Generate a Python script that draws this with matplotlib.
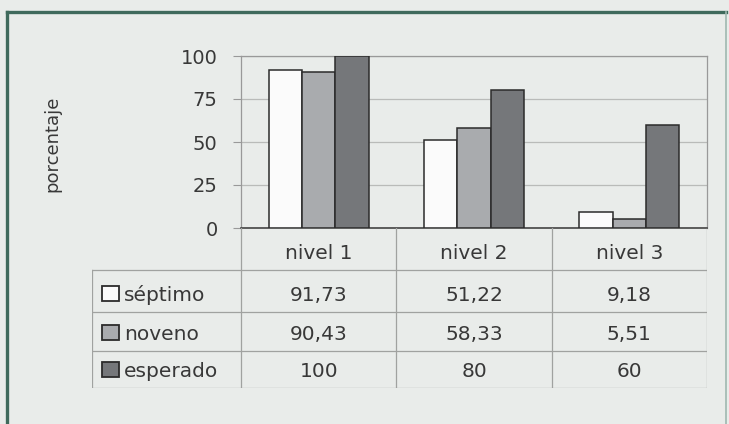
import matplotlib.pyplot as plt
from matplotlib.patches import Rectangle
from matplotlib.lines import Line2D

niveles = ['nivel 1', 'nivel 2', 'nivel 3']
series = ['séptimo', 'noveno', 'esperado']
septimo = [91.73, 51.22, 9.18]
noveno = [90.43, 58.33, 5.51]
esperado = [100, 80, 60]
yticks = [0, 25, 50, 75, 100]

colors = ['#fbfbfb', '#a9abae', '#75777a']
bg = '#e9ecea'
text_color = '#383838'
plt.rcParams['font.family'] = ['DejaVu Sans']

W, H = 729, 424
fig = plt.figure(figsize=(W / 100, H / 100), dpi=100, facecolor=bg)


def px_rect(left, top, right, bottom):
    return [left / W, 1 - bottom / H, (right - left) / W, (bottom - top) / H]


# chart area
ax = fig.add_axes(px_rect(241, 56, 707, 228))
ax.set_facecolor('none')
width = 0.215
values = [septimo, noveno, esperado]
for i, (vals, c) in enumerate(zip(values, colors)):
    xs = [k + (i - 1) * width for k in range(len(niveles))]
    ax.bar(xs, vals, width, color=c, edgecolor='#2b2b2b', linewidth=1.1, zorder=3)

ax.set_xlim(-0.5, 2.5)
ax.set_ylim(0, 100)
ax.set_yticks(yticks)
ax.set_yticklabels([str(t) for t in yticks], fontsize=14, color=text_color)
ax.set_xticks([])
ax.grid(axis='y', color='#b9bbb9', linewidth=0.9, zorder=0)
ax.tick_params(axis='y', length=5.8, width=0.8, color='#999999', pad=11)
for side in ['left', 'right', 'top']:
    ax.spines[side].set_color('#999999')
    ax.spines[side].set_linewidth(0.9)
ax.spines['bottom'].set_color('#444444')
ax.spines['bottom'].set_linewidth(1.2)
ax.set_ylabel('porcentaje', fontsize=13, color=text_color)
ax.yaxis.set_label_coords((52 - 241) / 466, 0.49)
ax.yaxis.label.set_va('center')

# data table under the chart; x in category units, y in pixels
px_per_cat = 155
label_w = 149 / px_per_cat
x_left = -0.5 - label_w
tab = fig.add_axes(px_rect(92, 228, 707, 388))
tab.set_xlim(x_left, 2.5)
tab.set_ylim(388, 228)
tab.axis('off')
row_edges = [228, 270, 312, 351, 388]
line_kw = dict(color='#a0a2a0', linewidth=0.9)
for y in row_edges[1:]:
    tab.add_line(Line2D([x_left, 2.5], [y, y], **line_kw))
for x in [-0.5, 0.5, 1.5, 2.5]:
    tab.add_line(Line2D([x, x], [228, 388], **line_kw))
tab.add_line(Line2D([x_left, x_left], [270, 388], **line_kw))

fs = 14.5
for k, nivel in enumerate(niveles):
    tab.text(k, row_edges[1] - 11, nivel, ha='center', va='baseline', fontsize=fs, color=text_color)

sw = 17 / px_per_cat
for r, (name, vals, c) in enumerate(zip(series, values, colors), start=1):
    base = row_edges[r + 1] - 11
    x0 = x_left + 10 / px_per_cat
    tab.add_patch(Rectangle((x0, base), sw, -15, facecolor=c,
                            edgecolor='#2b2b2b', linewidth=1.3))
    tab.text(x0 + sw + 5 / px_per_cat, base, name, ha='left', va='baseline',
             fontsize=fs, color=text_color)
    for k, v in enumerate(vals):
        s = ('%.2f' % v).replace('.', ',') if v != int(v) else str(int(v))
        tab.text(k, base, s, ha='center', va='baseline', fontsize=fs, color=text_color)

# green frame around the figure
frame_kw = dict(color='#3f6a5c', linewidth=2.4, transform=fig.transFigure)
fig.add_artist(Line2D([7 / W, 7 / W], [0, 1 - 12 / H], **frame_kw))
fig.add_artist(Line2D([7 / W, 726 / W], [1 - 12 / H, 1 - 12 / H], **frame_kw))
fig.add_artist(Line2D([726 / W, 726 / W], [0, 1 - 12 / H], color='#9fb8b0', linewidth=1.2,
                      transform=fig.transFigure))

fig.savefig('out.png', dpi=100, facecolor=bg)
